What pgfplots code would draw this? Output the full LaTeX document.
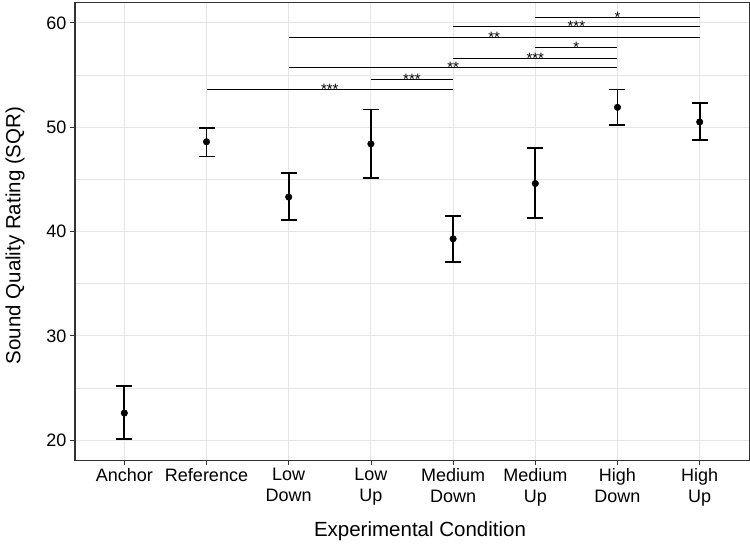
\documentclass[border=0pt]{standalone}
\usepackage{fontspec}
\setmainfont{Liberation Sans}
\usepackage{pgfplots}
\usepackage{pgfplotstable}
\pgfplotsset{compat=1.18}
\definecolor{gridc}{gray}{0.90}
\definecolor{borderc}{gray}{0.2}
\pgfplotstableread{
x y ep em
1 22.6 2.6 2.5
2 48.6 1.3 1.4
3 43.3 2.3 2.2
4 48.4 3.3 3.3
5 39.3 2.2 2.25
6 44.6 3.4 3.3
7 51.9 1.7 1.7
8 50.5 1.8 1.7
}\means
\pgfplotsset{every error bar/.append style={line width=1.7pt}}
\begin{document}
\begin{tikzpicture}
\begin{axis}[
 name=ax,
 scale only axis,
 width=674pt, height=457pt,
 xmin=0.4, xmax=8.6, ymin=18.1, ymax=61.9,
 xtick={1,...,8},
 xticklabels={Anchor, Reference, {Low\\Down}, {Low\\Up}, {Medium\\Down}, {Medium\\Up}, {High\\Down}, {High\\Up}},
 xticklabel style={align=center, font=\fontsize{18}{21}\selectfont},
 ytick={20,30,40,50,60},
 minor ytick={25,35,45,55},
 grid=both,
 major grid style={gridc, line width=0.9pt},
 minor grid style={gridc, line width=0.5pt},
 axis line style={borderc, line width=1pt},
 tick style={borderc, line width=0.8pt},
 minor tick style={draw=none},
 tick align=outside,
 major tick length=5pt,
 tick pos=left,
 xlabel={Experimental Condition},
 ylabel={Sound Quality Rating (SQR)},
 label style={font=\fontsize{20.5}{23}\selectfont},
 xlabel style={at={(rel axis cs:0.5,0)}, anchor=base, yshift=-76.5pt, xshift=8pt},
 ylabel style={at={(rel axis cs:0,0.5)}, anchor=center, yshift=60pt, xshift=-4pt},
 /pgf/number format/assume math mode=true,
 yticklabel style={font=\fontsize{18}{20.5}\selectfont},
 clip=false,
]
\addplot[only marks, mark=*, mark size=3.3pt, black, mark options={line width=0.4pt},
 error bars/.cd, y dir=both, y explicit,
 error bar style={line width=1.7pt, black},
 error mark options={rotate=90, mark size=8pt, line width=1.7pt, black}]
 table[x=x, y=y, y error plus=ep, y error minus=em] {\means};
\pgfplotsset{brk/.style={black, line width=1pt, forget plot}}
\def\stf{\fontsize{15}{15}\selectfont}
\addplot[brk] coordinates {(6,60.5) (8,60.5)} node[pos=0.5, anchor=base, yshift=-5pt, font=\stf]{*};
\addplot[brk] coordinates {(5,59.6) (8,59.6)} node[pos=0.5, anchor=base, yshift=-5pt, font=\stf]{***};
\addplot[brk] coordinates {(3,58.6) (8,58.6)} node[pos=0.5, anchor=base, yshift=-5pt, font=\stf]{**};
\addplot[brk] coordinates {(6,57.6) (7,57.6)} node[pos=0.5, anchor=base, yshift=-5pt, font=\stf]{*};
\addplot[brk] coordinates {(5,56.6) (7,56.6)} node[pos=0.5, anchor=base, yshift=-5pt, font=\stf]{***};
\addplot[brk] coordinates {(3,55.7) (7,55.7)} node[pos=0.5, anchor=base, yshift=-5pt, font=\stf]{**};
\addplot[brk] coordinates {(4,54.6) (5,54.6)} node[pos=0.5, anchor=base, yshift=-5pt, font=\stf]{***};
\addplot[brk] coordinates {(2,53.6) (5,53.6)} node[pos=0.5, anchor=base, yshift=-5pt, font=\stf]{***};
\end{axis}
\path ([xshift=-75pt,yshift=-82pt]ax.south west) rectangle ([xshift=1pt,yshift=3pt]ax.north east);
\end{tikzpicture}
\end{document}
